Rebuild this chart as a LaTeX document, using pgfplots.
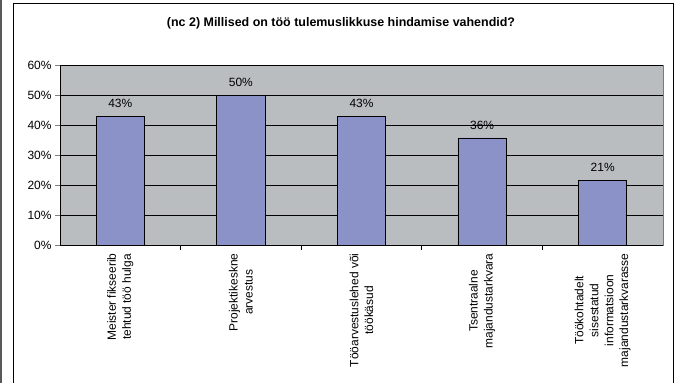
\documentclass[border=0pt]{standalone}
\usepackage{pgfplots}
\pgfplotsset{compat=1.18}
\usepackage{fontspec}
\setmainfont{Liberation Sans}
\definecolor{barfill}{RGB}{139,146,200}
\definecolor{plotbg}{RGB}{186,189,191}
\definecolor{plotedge}{RGB}{120,124,126}

\begin{document}
\begin{tikzpicture}
\useasboundingbox (0,0) rectangle (681bp,383bp);
% outer frame
\fill[black!65] (0,0) rectangle (1.5bp,383bp);
\draw[line width=1bp] (13.5bp,0) |- (673bp,379.5bp) -- (673bp,0);
\node[font=\fontsize{12.5}{14}\selectfont\bfseries] at (341bp,360bp)
  {(nc 2) Millised on töö tulemuslikkuse hindamise vahendid?};

\begin{axis}[
    at={(60bp,138bp)}, anchor=south west,
    scale only axis, width=603bp, height=180bp,
    xmin=-0.5, xmax=4.5, ymin=0, ymax=60,
    axis lines=left, axis line style={-, black, line width=0.8bp},
    axis background/.style={fill=plotbg, draw=plotedge, line width=0.8bp},
    ymajorgrids, grid style={black, line width=0.7bp},
    ytick={0,10,...,60},
    yticklabel={\pgfmathprintnumber{\tick}\%},
    /pgf/number format/assume math mode=true,
    xtick={0,...,4},
    major x tick style={draw=none},
    minor xtick={0.5,1.5,2.5,3.5},
    minor x tick style={draw=black},
    minor tick length=5bp, major tick length=5bp,
    tick align=outside, tick style={line width=0.7bp},
    xticklabels={
      {Meister fikseerib\\tehtud töö hulga},
      {Projektikeskne\\arvestus},
      {Tööarvestuslehed või\\töökäsud},
      {Tsentraalne\\majandustarkvara},
      {Töökohtadelt\\sisestatud\\informatsioon\\majandustarkvarasse}},
    xticklabel style={rotate=90, anchor=east, align=center,
      font=\fontsize{12}{15}\selectfont},
    yticklabel style={font=\fontsize{12}{14}\selectfont},
    ybar, bar width=0.4,
    nodes near coords={\pgfmathprintnumber[fixed,precision=0]{\pgfplotspointmeta}\%},
    every node near coord/.append style={font=\fontsize{12}{14}\selectfont, yshift=5bp},
]
\addplot[fill=barfill, draw=black, line width=0.7bp] coordinates {
    (0,42.86) (1,50.0) (2,42.86) (3,35.71) (4,21.43)
};
\end{axis}
\end{tikzpicture}
\end{document}
